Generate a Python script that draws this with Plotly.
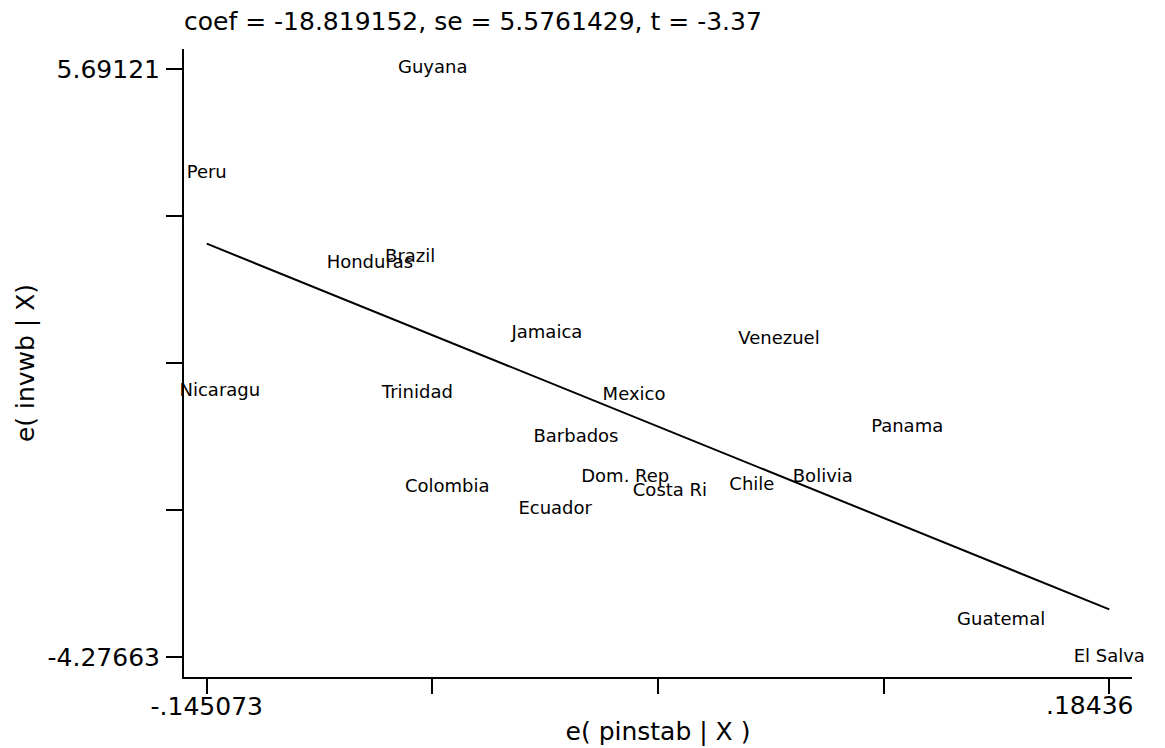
import numpy as np
import plotly.graph_objects as go

# Added-variable plot data (residuals)
countries = ["Guyana", "Peru", "Honduras", "Brazil", "Nicaragu", "Trinidad", "Colombia",
             "Jamaica", "Venezuel", "Mexico", "Barbados", "Dom. Rep", "Costa Ri", "Chile",
             "Ecuador", "Panama", "Bolivia", "Guatemal", "El Salva"]
e_pinstab = [-0.0626, -0.145073, -0.0855, -0.0708, -0.1403, -0.0682, -0.0573,
             -0.0209, 0.0638, 0.0109, -0.0103, 0.0077, 0.0240, 0.0539,
             -0.0179, 0.1106, 0.0798, 0.1449, 0.18436]
e_invwb = [5.69121, 3.9265, 2.4025, 2.5025, 0.2276, 0.1987, -1.3998,
           1.2142, 1.1091, 0.1648, -0.5471, -1.2303, -1.4625, -1.3625,
           -1.7728, -0.3776, -1.2252, -3.6511, -4.27663]

coef = -18.819152
se = 5.5761429
tstat = -3.37
intercept = 0.0

x_tick_labels = ["-.145073", "", "", "", ".18436"]
y_tick_labels = ["-4.27663", "", "", "", "5.69121"]

FONT = "DejaVu Sans"

x = np.array(e_pinstab)
y = np.array(e_invwb)
xs = np.sort(x)
yfit = coef * xs + intercept

xmin, xmax = x.min(), x.max()
ymin, ymax = y.min(), y.max()
xticks = np.linspace(xmin, xmax, 5)
yticks = np.linspace(ymin, ymax, 5)
xpad = (xmax - xmin) * 0.0252
ypad = (ymax - ymin) * 0.0340

fig = go.Figure()
fig.add_trace(go.Scatter(x=xs, y=yfit, mode="lines",
                         line=dict(color="black", width=2), hoverinfo="skip",
                         showlegend=False))
fig.add_trace(go.Scatter(x=x, y=y, mode="text", text=countries,
                         textposition="middle center", cliponaxis=False,
                         textfont=dict(family=FONT, size=18, color="black"),
                         showlegend=False))

# the rightmost x label is pulled left so it stays inside the graph, as in the original
fig.add_annotation(x=xticks[-1], xref="x", y=0, yref="paper",
                   text=x_tick_labels[-1], showarrow=False,
                   xanchor="right", yanchor="middle", xshift=26, yshift=-28,
                   font=dict(family=FONT, size=25, color="black"))

fig.update_layout(
    width=1165, height=748,
    margin=dict(l=184, r=33, t=49, b=71, autoexpand=False),
    plot_bgcolor="white", paper_bgcolor="white",
    font=dict(family=FONT, color="black"),
    title=dict(text=f"coef = {coef}, se = {se}, t = {tstat}",
               x=184 / 1165, xref="container", xanchor="left",
               y=1 - 21 / 748, yref="container", yanchor="middle",
               font=dict(family=FONT, size=25, color="black")),
    xaxis=dict(range=[xmin - xpad, xmax + xpad], tickvals=xticks,
               ticktext=x_tick_labels[:-1] + [""],
               showline=True, linecolor="black", linewidth=2, automargin=False,
               ticks="outside", ticklen=15, tickwidth=2, tickcolor="black",
               showgrid=False, zeroline=False,
               tickfont=dict(family=FONT, size=25, color="black"),
               ticklabelstandoff=-9,
               title=dict(text="e( pinstab | X )", font=dict(family=FONT, size=25, color="black"),
                          standoff=2)),
    yaxis=dict(range=[ymin - ypad, ymax + ypad], tickvals=yticks, ticktext=y_tick_labels,
               showline=True, linecolor="black", linewidth=2, automargin=False,
               ticks="outside", ticklen=16, tickwidth=2, tickcolor="black",
               showgrid=False, zeroline=False,
               tickfont=dict(family=FONT, size=25, color="black"),
               ticklabelstandoff=1,
               title=dict(text="e( invwb | X)", font=dict(family=FONT, size=25, color="black"),
                          standoff=6)),
)

fig.write_html("out.html", config={"displayModeBar": False},
               post_script="document.body.style.margin='0';")
